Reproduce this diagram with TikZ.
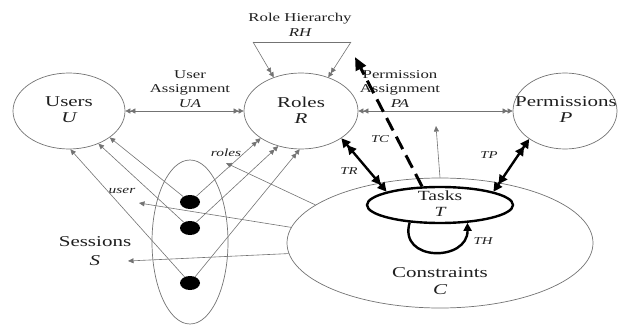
\documentclass[tikz,border=0pt]{standalone}
\usepackage{fontspec}
\setmainfont{Liberation Serif}
\usepackage{graphicx}
\usetikzlibrary{arrows.meta,shapes.geometric}
\definecolor{ln}{gray}{0.45}
\definecolor{tx}{gray}{0.12}
\newcommand\hs[1]{\scalebox{1.4}[1]{#1}}
\begin{document}
\begin{tikzpicture}[x=1pt,y=-1pt,
  ell/.style={draw=ln, line width=0.7pt, ellipse, inner sep=0pt},
  dot/.style={ellipse, fill=black, inner sep=0pt, minimum width=20pt, minimum height=14pt},
  lbl/.style={text=tx, align=center, inner sep=0pt},
  big/.style={lbl, font=\fontsize{15}{16}\selectfont},
  mid/.style={lbl, font=\fontsize{12}{14.5}\selectfont},
  sml/.style={lbl, font=\fontsize{10.5}{12}\selectfont\itshape},
  thinl/.style={draw=ln, line width=0.6pt},
  one/.style={-{Triangle[length=5.5pt,width=5pt]}},
  dd/.style={-{Triangle[length=5pt,width=5pt]Triangle[length=5pt,width=5pt]}},
  ddb/.style={{Triangle[length=5pt,width=5pt]Triangle[length=5pt,width=5pt]}-{Triangle[length=5pt,width=5pt]Triangle[length=5pt,width=5pt]}},
  thk/.style={draw=black, line width=2.4pt},
  bigdd/.style={{Triangle[length=9pt,width=9pt]Triangle[length=9pt,width=9pt]}-{Triangle[length=9pt,width=9pt]Triangle[length=9pt,width=9pt]}}
]
\useasboundingbox (0,0) rectangle (619,329);

% ellipses
\node[ell, minimum width=112pt, minimum height=76pt] (users) at (69,111) {};
\node[ell, minimum width=114pt, minimum height=76pt] (roles) at (301,111) {};
\node[ell, minimum width=104pt, minimum height=76pt] (perm) at (565,111) {};
\node[ell, minimum width=306pt, minimum height=130pt] (cons) at (440,243) {};
\node[ell, minimum width=76pt, minimum height=164pt] (sess) at (190,242) {};
\node[ellipse, draw=black, line width=2.4pt, inner sep=0pt, minimum width=146pt, minimum height=36pt] (tasks) at (440,205) {};

% text labels
\node[big] (tusers) at (69,110) {\hs{Users}\\\hs{\itshape U}};
\node[big] (troles) at (301,110) {\hs{Roles}\\\hs{\itshape R}};
\node[big] (tperm) at (566,110) {\hs{Permissions}\\\hs{\itshape P}};
\node[lbl, font=\fontsize{14}{16}\selectfont] (ttasks) at (440,204) {\hs{Tasks}\\\hs{\itshape T}};
\node[big, font=\fontsize{15}{17}\selectfont] (tcons) at (440,281) {\hs{Constraints}\\\hs{\itshape C}};
\node[big, font=\fontsize{15}{19}\selectfont] (tsess) at (95,251) {\hs{Sessions}\\\hs{\itshape S}};
\node[mid] (trh) at (300,25) {\hs{Role Hierarchy}\\\hs{\itshape RH}};
\node[mid] (tua) at (190,89) {\hs{User}\\\hs{Assignment}\\\hs{\itshape UA}};
\node[mid] (tpa) at (400,89) {\hs{Permission}\\\hs{Assignment}\\\hs{\itshape PA}};
\node[sml] (ltc) at (380,139) {\hs{TC}};
\node[sml] (ltr) at (349,171) {\hs{TR}};
\node[sml] (ltp) at (489,155) {\hs{TP}};
\node[sml] (lth) at (483,241) {\hs{TH}};
\node[sml, font=\fontsize{11}{12}\selectfont\itshape] (luser) at (122,191) {\hs{user}};
\node[sml, font=\fontsize{11}{12}\selectfont\itshape] (lroles) at (226,153) {\hs{roles}};

% UA / PA
\draw[thinl, ddb] (users.0) -- (roles.180);
\draw[thinl, ddb] (roles.0) -- (perm.180);

% Role hierarchy triangle
\coordinate (rhl) at (253,42);
\coordinate (rhr) at (351,42);
\draw[thinl] (rhl) -- (rhr);
\draw[thinl, dd] (rhl) -- (roles.129.5);
\draw[thinl, dd] (rhr) -- (roles.51.5);

% sessions dots
\node[dot] (d1) at (190,202) {};
\node[dot] (d2) at (190,228) {};
\node[dot] (d3) at (190,283) {};
\draw[thinl, one] (d1) -- (users.-33);
\draw[thinl, one] (d2) -- (users.-48.5);
\draw[thinl, one] (d3) -- (users.-88);
\draw[thinl, dd] (d1) -- (roles.214);
\draw[thinl, dd] (d2) -- (roles.237);
\draw[thinl, dd] (d3) -- (roles.268);

% constraint arrows
\coordinate (croles) at (226,163);
\coordinate (cuser) at (139,203);
\coordinate (csess) at (128,261);
\coordinate (cpa) at (436,126);
\draw[thinl, one] (cons.163) -- (croles);
\draw[thinl, one] (cons.174.5) -- (cuser);
\draw[thinl, one] (cons.184) -- (csess);
\draw[thinl, one] (cons.90) -- (cpa);

% thick connectors
\draw[thk, bigdd] (roles.-34.6) -- (tasks.166);
\draw[thk, bigdd] (perm.218) -- (tasks.14);
\coordinate (tcend) at (355,57);
\draw[thk, line width=3pt, dash pattern=on 14pt off 7pt, -{Triangle[length=13pt,width=11pt]}] (tasks.134) -- (tcend);
\draw[thk, -{Triangle[length=8pt,width=8pt]}] (tasks.210) .. controls (398,262) and (468,262) .. (tasks.-33);
\end{tikzpicture}
\end{document}
